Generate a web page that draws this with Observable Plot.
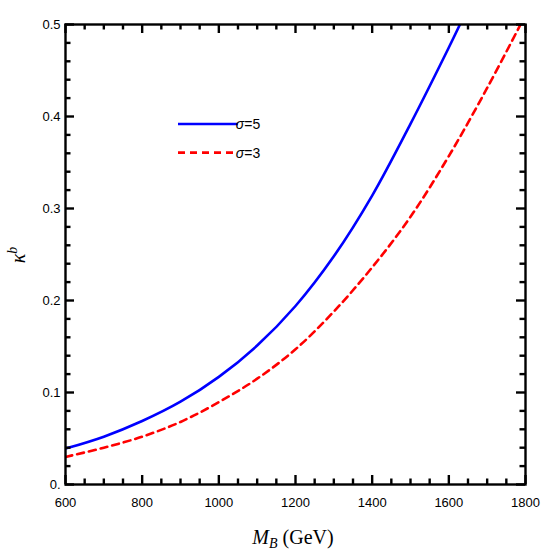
<!DOCTYPE html>
<html>
<head>
<meta charset="utf-8">
<script src="https://cdn.jsdelivr.net/npm/d3@7"></script>
<script src="https://cdn.jsdelivr.net/npm/@observablehq/plot@0.6"></script>
<style>
  body { margin: 0; background: #fff; }
  #chart { width: 542px; height: 553px; }
</style>
</head>
<body>
<div id="chart"></div>
<script>
// Coupling kappa^b versus heavy quark mass M_B for two significance levels
const sigma5Mass  = [600, 700, 800, 900, 1000, 1100, 1200, 1300, 1400, 1500, 1600, 1629];
const sigma5Kappa = [0.039, 0.052, 0.069, 0.090, 0.117, 0.151, 0.194, 0.248, 0.314, 0.392, 0.475, 0.5];

const sigma3Mass  = [600, 700, 800, 900, 1000, 1100, 1200, 1300, 1400, 1500, 1600, 1700, 1787];
const sigma3Kappa = [0.030, 0.040, 0.052, 0.068, 0.0895, 0.115, 0.147, 0.188, 0.236, 0.291, 0.357, 0.431, 0.5];

const seriesNames = ["\u03c3=5", "\u03c3=3"];
const seriesColors = ["#0000ff", "#ff0000"];

const xTicks = [600, 800, 1000, 1200, 1400, 1600, 1800];
const yTicks = [0, 0.1, 0.2, 0.3, 0.4, 0.5];
const yTickLabels = ["0.", "0.1", "0.2", "0.3", "0.4", "0.5"];

const xMinor = d3.range(600, 1800.1, 50).filter(v => (v - 600) % 200 !== 0);
const yMinor = d3.range(0, 0.5001, 0.02).map(v => +v.toFixed(2)).filter(v => Math.round(v * 100) % 10 !== 0);

const xDomain = [600, 1800], yDomain = [0, 0.5];
const W = 542, H = 553;
const mL = 65, mR = 17, mT = 24, mB = 69;
const fw = W - mL - mR, fh = H - mT - mB;

// tick lengths in pixels, converted to each axis' data units
const major = 9, minor = 5.5;
const xPer = (xDomain[1] - xDomain[0]) / fw;
const yPer = (yDomain[1] - yDomain[0]) / fh;

const toRows = (ms, ks, name) => ms.map((m, i) => ({m, k: ks[i], name}));
const rows5 = toRows(sigma5Mass, sigma5Kappa, seriesNames[0]);
const rows3 = toRows(sigma3Mass, sigma3Kappa, seriesNames[1]);

const tickStyle = {stroke: "#000", strokeWidth: 2.4};
const xTickMarks = (vals, len) => [
  Plot.ruleX(vals, {x: d => d, y1: yDomain[0], y2: yDomain[0] + len * yPer, ...tickStyle}),
  Plot.ruleX(vals, {x: d => d, y1: yDomain[1], y2: yDomain[1] - len * yPer, ...tickStyle})
];
const yTickMarks = (vals, len) => [
  Plot.ruleY(vals, {y: d => d, x1: xDomain[0], x2: xDomain[0] + len * xPer, ...tickStyle}),
  Plot.ruleY(vals, {y: d => d, x1: xDomain[1], x2: xDomain[1] - len * xPer, ...tickStyle})
];

const plot = Plot.plot({
  width: W, height: H,
  marginLeft: mL, marginRight: mR, marginTop: mT, marginBottom: mB,
  style: {fontFamily: "'Liberation Sans', Arial, sans-serif", fontSize: "13px", color: "black", background: "white"},
  x: {domain: xDomain, ticks: xTicks, tickSize: 0, tickPadding: 13, label: null, tickFormat: d => String(d)},
  y: {domain: yDomain, ticks: yTicks, tickSize: 0, tickPadding: 5, label: null,
      tickFormat: d => yTickLabels[yTicks.findIndex(t => Math.abs(t - d) < 1e-9)]},
  marks: [
    Plot.line(rows5, {x: "m", y: "k", stroke: seriesColors[0], strokeWidth: 2.6, curve: "catmull-rom", clip: true}),
    Plot.line(rows3, {x: "m", y: "k", stroke: seriesColors[1], strokeWidth: 2.6, strokeDasharray: "7,5", curve: "catmull-rom", clip: true}),
    ...xTickMarks(xTicks, major), ...xTickMarks(xMinor, minor),
    ...yTickMarks(yTicks, major), ...yTickMarks(yMinor, minor),
    Plot.frame({stroke: "black", strokeWidth: 2.4})
  ]
});

const svg = d3.select(plot);
const serif = "'Liberation Serif', 'Times New Roman', serif";

// x-axis title: M_B (GeV)
const xl = svg.append("text")
  .attr("x", mL + fw / 2 - 2).attr("y", H - 9)
  .attr("text-anchor", "middle")
  .attr("font-family", serif).attr("font-size", 20).attr("fill", "black");
xl.append("tspan").attr("font-style", "italic").text("M");
xl.append("tspan").attr("font-style", "italic").attr("font-size", 14).attr("dy", 4).text("B");
xl.append("tspan").attr("dy", -4).text(" (GeV)");

// y-axis title: kappa^b
const yl = svg.append("text")
  .attr("transform", `translate(25,${mT + fh / 2 + 1}) rotate(-90)`)
  .attr("text-anchor", "middle")
  .attr("font-family", serif).attr("font-size", 20).attr("fill", "black");
yl.append("tspan").attr("font-style", "italic").text("\u03ba");
yl.append("tspan").attr("font-style", "italic").attr("font-size", 14).attr("dy", -8).text("b");

// legend
const lg = svg.append("g").attr("transform", `translate(${mL + 113},${mT + 100})`);
seriesNames.forEach((name, i) => {
  const y = i * 28.6;
  lg.append("line")
    .attr("x1", 0).attr("x2", 60).attr("y1", y).attr("y2", y)
    .attr("stroke", seriesColors[i]).attr("stroke-width", 2.6)
    .attr("stroke-dasharray", i === 1 ? "7,5" : null);
  const t = lg.append("text")
    .attr("x", 70).attr("y", y + 5)
    .attr("font-family", "'Liberation Sans', Arial, sans-serif").attr("font-size", 14).attr("fill", "black");
  t.append("tspan").attr("font-style", "italic").text(name.slice(0, 1));
  t.append("tspan").text(name.slice(1));
});

document.getElementById("chart").append(plot);
</script>
</body>
</html>
